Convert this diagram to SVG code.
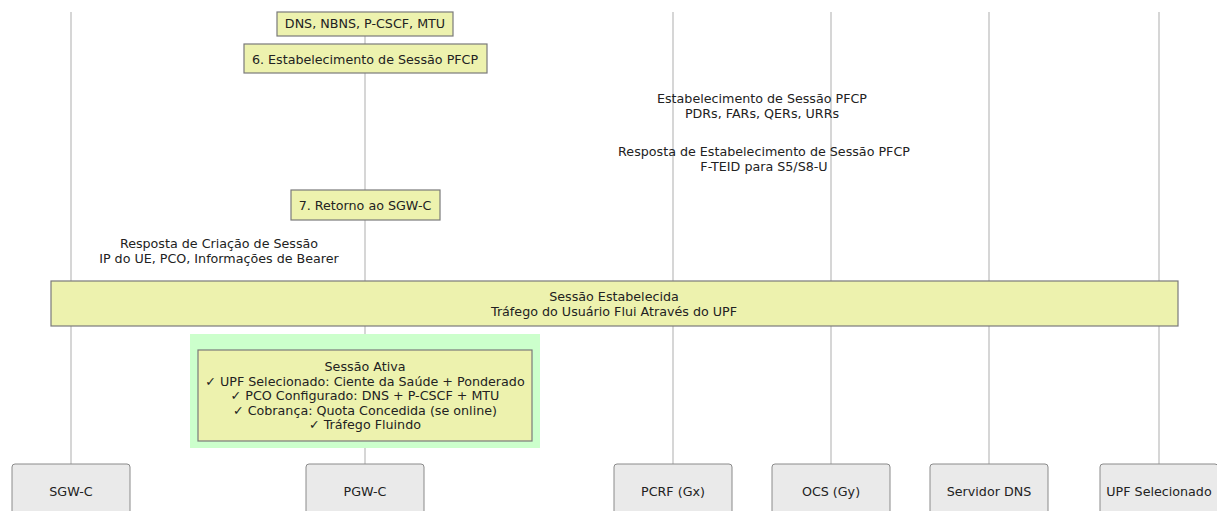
<svg xmlns="http://www.w3.org/2000/svg" width="1217" height="511" viewBox="0 0 1217 511">
<style>
text{font-family:"DejaVu Sans","Noto Sans",sans-serif;font-size:12.7px;fill:#222;text-anchor:middle}
.life{stroke:#bbb;stroke-width:1.2;fill:none}
.actor{fill:#eaeaea;stroke:#8a8a8a;stroke-width:1}
.note{fill:#edf2ae;stroke:#7a7a7a;stroke-width:1.2}
.rect{fill:#ccffcc;stroke:none}
</style>
<rect width="1217" height="511" fill="#fff"/>
<g id="lifelines">
<line class="life" x1="71" y1="12" x2="71" y2="464"/>
<line class="life" x1="365" y1="12" x2="365" y2="464"/>
<line class="life" x1="673" y1="12" x2="673" y2="464"/>
<line class="life" x1="831" y1="12" x2="831" y2="464"/>
<line class="life" x1="989" y1="12" x2="989" y2="464"/>
<line class="life" x1="1159" y1="12" x2="1159" y2="464"/>
</g>
<g id="connectors">
<text x="762" y="102.5">Estabelecimento de Sessão PFCP</text>
<text x="762" y="117.5">PDRs, FARs, QERs, URRs</text>
<text x="764" y="155.5">Resposta de Estabelecimento de Sessão PFCP</text>
<text x="764" y="170.5">F-TEID para S5/S8-U</text>
<text x="219" y="247.5">Resposta de Criação de Sessão</text>
<text x="219" y="262.5">IP do UE, PCO, Informações de Bearer</text>
</g>
<g id="note-pco">
<rect class="note" x="277" y="12" width="176" height="24"/>
<text x="365" y="27.5">DNS, NBNS, P-CSCF, MTU</text>
</g>
<g id="note-step6">
<rect class="note" x="244" y="44" width="243" height="29"/>
<text x="365" y="63.5">6. Estabelecimento de Sessão PFCP</text>
</g>
<g id="note-step7">
<rect class="note" x="291" y="190" width="149" height="30"/>
<text x="365" y="209.5">7. Retorno ao SGW-C</text>
</g>
<g id="note-established">
<rect class="note" x="51" y="281" width="1127" height="45"/>
<text x="614" y="300.5">Sessão Estabelecida</text>
<text x="614" y="315.5">Tráfego do Usuário Flui Através do UPF</text>
</g>
<g id="active-block">
<rect class="rect" x="190" y="334" width="350" height="114"/>
<rect class="note" x="198" y="350" width="334" height="91"/>
<text x="365" y="370.5">Sessão Ativa</text>
<text x="365" y="385.5">✓ UPF Selecionado: Ciente da Saúde + Ponderado</text>
<text x="365" y="400">✓ PCO Configurado: DNS + P-CSCF + MTU</text>
<text x="365" y="414.5">✓ Cobrança: Quota Concedida (se online)</text>
<text x="365" y="429">✓ Tráfego Fluindo</text>
</g>
<g id="sgwc"><rect class="actor" x="12" y="464" width="118" height="60" rx="3"/><text x="71" y="496">SGW-C</text></g>
<g id="pgwc"><rect class="actor" x="306" y="464" width="118" height="60" rx="3"/><text x="365" y="496">PGW-C</text></g>
<g id="pcrf"><rect class="actor" x="614" y="464" width="118" height="60" rx="3"/><text x="673" y="496">PCRF (Gx)</text></g>
<g id="ocs"><rect class="actor" x="772" y="464" width="118" height="60" rx="3"/><text x="831" y="496">OCS (Gy)</text></g>
<g id="dns"><rect class="actor" x="930" y="464" width="118" height="60" rx="3"/><text x="989" y="496">Servidor DNS</text></g>
<g id="upf"><rect class="actor" x="1100" y="464" width="118" height="60" rx="3"/><text x="1159" y="496">UPF Selecionado</text></g>
</svg>
